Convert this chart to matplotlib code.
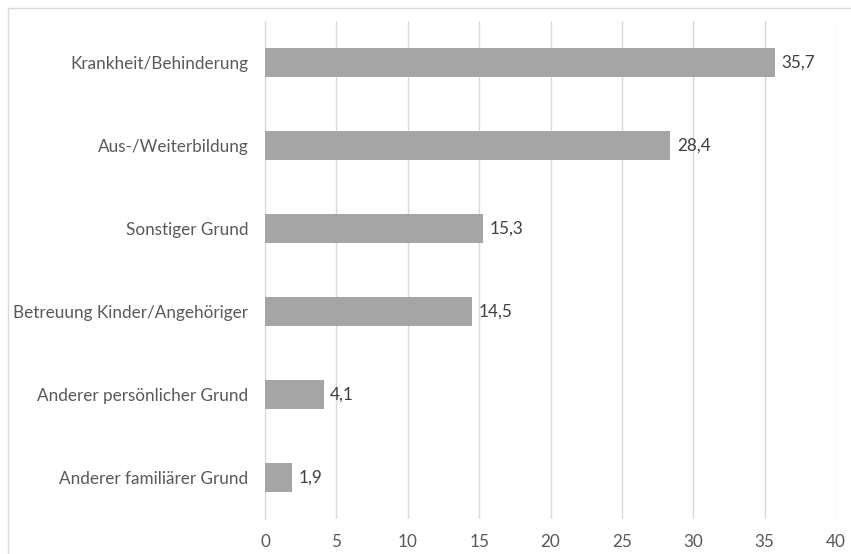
import matplotlib
matplotlib.use("Agg")
import matplotlib.pyplot as plt
from matplotlib.patches import Rectangle

categories = ["Krankheit/Behinderung", "Aus-/Weiterbildung", "Sonstiger Grund",
              "Betreuung Kinder/Angehöriger", "Anderer persönlicher Grund",
              "Anderer familiärer Grund"]
values = [35.7, 28.4, 15.3, 14.5, 4.1, 1.9]
xticks = [0, 5, 10, 15, 20, 25, 30, 35, 40]

plt.rcParams['font.family'] = ['Lato', 'DejaVu Sans']
W, H = 851, 554
fig = plt.figure(figsize=(W/100, H/100), dpi=100)
fig.patch.set_facecolor('white')
fig.patches.append(Rectangle((8/W, -0.1), 2, 1.1 - 8/H, transform=fig.transFigure,
                             fill=False, edgecolor='#D9D9D9', linewidth=1))

ax = fig.add_axes([265/W, 1 - 519/H, (836-265)/W, (519-21)/H])
n = len(categories)
ypos = list(range(n))[::-1]
ax.barh(ypos, values, height=0.36, color='#A5A5A5', zorder=3)
ax.set_ylim(-0.5, n - 0.5)
ax.set_xlim(0, 40)
ax.set_xticks(xticks)
ax.set_xticklabels([str(t) for t in xticks])
ax.set_yticks(ypos)
ax.set_yticklabels(categories)
ax.tick_params(axis='both', length=0, labelsize=12.3, colors='#595959')
ax.tick_params(axis='y', pad=12)
ax.tick_params(axis='x', pad=11)
ax.grid(axis='x', color='#D9D9D9', linewidth=1, zorder=0)
for s in ['top', 'right', 'bottom']:
    ax.spines[s].set_visible(False)
ax.spines['left'].set_color('#D9D9D9')
for y, v in zip(ypos, values):
    ax.text(v + 0.45, y, f"{v:.1f}".replace('.', ','), va='center', ha='left',
            fontsize=12.3, color='#404040')

fig.savefig('out.png', dpi=100, facecolor='white')
